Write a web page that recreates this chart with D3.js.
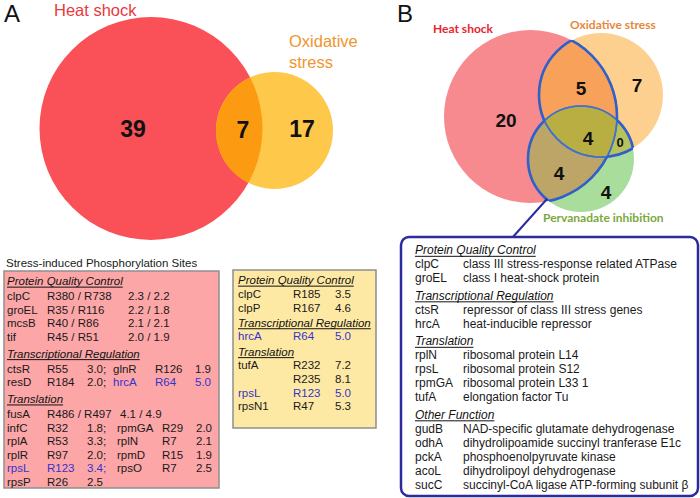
<!DOCTYPE html>
<html><head><meta charset="utf-8">
<script src="https://cdn.jsdelivr.net/npm/d3@7"></script>
<style>html,body{margin:0;padding:0;background:#fff;}svg{display:block;font-family:"Liberation Sans",Arial,sans-serif;}</style>
</head><body>
<script>
// ---------------- DATA ----------------
const setsA = ["Heat shock", "Oxidative stress"];
const countsA = [39, 7, 17]; // heat only, both, oxidative only

const setsB = ["Heat shock", "Oxidative stress", "Pervanadate inhibition"];
const regionKeysB = ["H", "HO", "O", "HOP", "OP", "HP", "P"];
const regionCountsB = [20, 5, 7, 4, 0, 4, 4];

const tableTitle = "Stress-induced Phosphorylation Sites";
const blueGenes = ["hrcA", "rpsL"];

const heatSites = [
  {header: "Protein Quality Control"},
  {kind: "pair", cells: [["clpC", "R380 / R738", "2.3 / 2.2"]]},
  {kind: "pair", cells: [["groEL", "R35 / R116", "2.2 / 1.8"]]},
  {kind: "pair", cells: [["mcsB", "R40 / R86", "2.1 / 2.1"]]},
  {kind: "pair", cells: [["tif", "R45 / R51", "2.0 / 1.9"]]},
  {header: "Transcriptional Regulation"},
  {kind: "tr", cells: [["ctsR", "R55", "3.0;"], ["glnR", "R126", "1.9"]]},
  {kind: "tr", cells: [["resD", "R184", "2.0;"], ["hrcA", "R64", "5.0"]]},
  {header: "Translation"},
  {kind: "fus", cells: [["fusA", "R486 / R497", "4.1 / 4.9"]]},
  {kind: "tl", cells: [["infC", "R32", "1.8;"], ["rpmGA", "R29", "2.0"]]},
  {kind: "tl", cells: [["rplA", "R53", "3.3;"], ["rplN", "R7", "2.1"]]},
  {kind: "tl", cells: [["rplR", "R97", "2.0;"], ["rpmD", "R15", "1.9"]]},
  {kind: "tl", cells: [["rpsL", "R123", "3.4;"], ["rpsO", "R7", "2.5"]]},
  {kind: "single", cells: [["rpsP", "R26", "2.5"]]}
];

const oxSites = [
  {header: "Protein Quality Control"},
  {kind: "y", cells: [["clpC", "R185", "3.5"]]},
  {kind: "y", cells: [["clpP", "R167", "4.6"]]},
  {header: "Transcriptional Regulation"},
  {kind: "y", cells: [["hrcA", "R64", "5.0"]]},
  {header: "Translation"},
  {kind: "y", cells: [["tufA", "R232", "7.2"]]},
  {kind: "y", cells: [["", "R235", "8.1"]]},
  {kind: "y", cells: [["rpsL", "R123", "5.0"]]},
  {kind: "y", cells: [["rpsN1", "R47", "5.3"]]}
];

const sharedGenes = [
  {header: "Protein Quality Control"},
  {kind: "b", cells: [["clpC", "class III stress-response related ATPase"]]},
  {kind: "b", cells: [["groEL", "class I heat-shock protein"]]},
  {header: "Transcriptional Regulation"},
  {kind: "b", cells: [["ctsR", "repressor of class III stress genes"]]},
  {kind: "b", cells: [["hrcA", "heat-inducible repressor"]]},
  {header: "Translation"},
  {kind: "b", cells: [["rplN", "ribosomal protein L14"]]},
  {kind: "b", cells: [["rpsL", "ribosomal protein S12"]]},
  {kind: "b", cells: [["rpmGA", "ribosomal protein L33 1"]]},
  {kind: "b", cells: [["tufA", "elongation factor Tu"]]},
  {header: "Other Function"},
  {kind: "b", cells: [["gudB", "NAD-specific glutamate dehydrogenase"]]},
  {kind: "b", cells: [["odhA", "dihydrolipoamide succinyl tranferase E1c"]]},
  {kind: "b", cells: [["pckA", "phosphoenolpyruvate kinase"]]},
  {kind: "b", cells: [["acoL", "dihydrolipoyl dehydrogenase"]]},
  {kind: "b", cells: [["sucC", "succinyl-CoA ligase ATP-forming subunit \u03b2"]]}
];

// ---------------- LAYOUT ----------------
const W = 700, H = 498;
const svg = d3.select("body").append("svg").attr("width", W).attr("height", H);
const defs = svg.append("defs");

// Panel A
const circA = [{x: 151, y: 128.5, r: 111.5, fill: "#fa5158"}, {x: 274.5, y: 130.5, r: 58.5, fill: "#fec84b"}];
const gA = svg.append("g");
defs.append("clipPath").attr("id", "clipA0").append("circle").attr("cx", circA[0].x).attr("cy", circA[0].y).attr("r", circA[0].r);
gA.selectAll("circle.set").data(circA).join("circle").attr("class", "set")
  .attr("cx", d => d.x).attr("cy", d => d.y).attr("r", d => d.r).attr("fill", d => d.fill);
gA.append("circle").attr("cx", circA[1].x).attr("cy", circA[1].y).attr("r", circA[1].r)
  .attr("fill", "#fc9b12").attr("clip-path", "url(#clipA0)");

const labA = [{x: 133, y: 128}, {x: 243, y: 129}, {x: 302, y: 128}];
gA.selectAll("text.cnt").data(countsA).join("text").attr("class", "cnt")
  .attr("x", (d, i) => labA[i].x).attr("y", (d, i) => labA[i].y + 8.5)
  .attr("text-anchor", "middle").attr("font-weight", "bold").attr("font-size", 23).attr("fill", "#111")
  .text(d => d);

svg.append("text").attr("x", 4).attr("y", 22).attr("font-size", 24).attr("fill", "#111").text("A");
svg.append("text").attr("x", 397).attr("y", 22).attr("font-size", 24).attr("fill", "#111").text("B");

gA.append("text").attr("x", 54).attr("y", 16).attr("font-size", 16.5).attr("fill", "#e9383e").text(setsA[0]);
const oxWords = setsA[1].split(" ");
gA.selectAll("text.oxl").data(oxWords).join("text").attr("class", "oxl")
  .attr("x", 289).attr("y", (d, i) => 47 + i * 21).attr("font-size", 16.5).attr("fill", "#f0952c").text(d => d);

// Panel B
const circB = {
  H: {x: 530.5, y: 116.5, r: 86.5, fill: "#f78a8e"},
  O: {x: 601, y: 95, r: 62, fill: "#fdd08f"},
  P: {x: 581, y: 159, r: 53, fill: "#a9dd9b"}
};
const keys = ["H", "O", "P"];
const gB = svg.append("g");
keys.forEach(k => {
  defs.append("clipPath").attr("id", "clipB" + k).append("circle")
    .attr("cx", circB[k].x).attr("cy", circB[k].y).attr("r", circB[k].r);
  const m = defs.append("mask").attr("id", "notB" + k).attr("maskUnits", "userSpaceOnUse")
    .attr("x", 0).attr("y", 0).attr("width", W).attr("height", H);
  m.append("rect").attr("width", W).attr("height", H).attr("fill", "#fff");
  m.append("circle").attr("cx", circB[k].x).attr("cy", circB[k].y).attr("r", circB[k].r).attr("fill", "#000");
});
gB.selectAll("circle.set").data(keys).join("circle").attr("class", "set")
  .attr("cx", k => circB[k].x).attr("cy", k => circB[k].y).attr("r", k => circB[k].r).attr("fill", k => circB[k].fill);
const pairs = [
  {c: "O", clip: "H", fill: "#f8a15a"},
  {c: "P", clip: "H", fill: "#bca566"},
  {c: "P", clip: "O", fill: "#b8c25c"}
];
pairs.forEach(p => {
  gB.append("circle").attr("cx", circB[p.c].x).attr("cy", circB[p.c].y).attr("r", circB[p.c].r)
    .attr("fill", p.fill).attr("clip-path", `url(#clipB${p.clip})`);
});
gB.append("g").attr("clip-path", "url(#clipBH)").append("circle")
  .attr("cx", circB.P.x).attr("cy", circB.P.y).attr("r", circB.P.r)
  .attr("fill", "#b8ae42").attr("clip-path", "url(#clipBO)");

// lens outlines: each circle's boundary inside each other circle (thin),
// outer boundary of the union of lenses (thick)
const arcPairs = [["H", "O"], ["O", "H"], ["H", "P"], ["P", "H"], ["O", "P"], ["P", "O"]];
arcPairs.forEach(([a, b]) => {
  gB.append("circle").attr("cx", circB[a].x).attr("cy", circB[a].y).attr("r", circB[a].r)
    .attr("fill", "none").attr("stroke", "#3f72cf").attr("stroke-width", 1.6)
    .attr("clip-path", `url(#clipB${b})`);
});
arcPairs.forEach(([a, b]) => {
  const c = keys.find(k => k !== a && k !== b);
  gB.append("g").attr("mask", `url(#notB${c})`).append("circle")
    .attr("cx", circB[a].x).attr("cy", circB[a].y).attr("r", circB[a].r)
    .attr("fill", "none").attr("stroke", "#2f60cc").attr("stroke-width", 2.6)
    .attr("clip-path", `url(#clipB${b})`);
});

const labB = {H: [506, 120], HO: [581, 88], O: [637, 85], HOP: [588, 138], OP: [620, 142], HP: [559, 173], P: [606, 192]};
gB.selectAll("text.cnt").data(regionCountsB).join("text").attr("class", "cnt")
  .attr("x", (d, i) => labB[regionKeysB[i]][0])
  .attr("y", (d, i) => labB[regionKeysB[i]][1] + (regionKeysB[i] === "OP" ? 5 : 7))
  .attr("text-anchor", "middle").attr("font-weight", "bold")
  .attr("font-size", (d, i) => regionKeysB[i] === "OP" ? 13 : 19).attr("fill", "#111").text(d => d);

const labBpos = [{x: 433, y: 33, c: "#e8232e"}, {x: 570, y: 29, c: "#e8873a"}, {x: 543, y: 222, c: "#7ba83c"}];
gB.selectAll("text.setl").data(setsB).join("text").attr("class", "setl")
  .attr("x", (d, i) => labBpos[i].x).attr("y", (d, i) => labBpos[i].y)
  .attr("font-family", "Lato, 'Open Sans', sans-serif").attr("font-weight", "bold").attr("font-size", 12)
  .attr("fill", (d, i) => labBpos[i].c).text(d => d);

// connector
svg.append("line").attr("x1", 547).attr("y1", 199).attr("x2", 512).attr("y2", 238)
  .attr("stroke", "#2b2b9e").attr("stroke-width", 2);

// ---------------- TABLES ----------------
function drawTable(g, rows, opt) {
  let y = opt.y0;
  rows.forEach((row, i) => {
    if (i > 0) {
      y += opt.step;
      if (row.header) y += opt.before;
      else if (rows[i - 1].header) y += opt.after;
    }
    const base = y + opt.fs * 0.36;
    if (row.header) {
      const t = g.append("text").attr("x", opt.cols.h).attr("y", base).attr("font-size", opt.fs)
        .attr("font-style", "italic").attr("fill", "#111").text(row.header);
      const w = t.node().getComputedTextLength();
      g.append("line").attr("x1", opt.cols.h).attr("x2", opt.cols.h + w)
        .attr("y1", base + 2).attr("y2", base + 2).attr("stroke", "#111").attr("stroke-width", 1);
    } else {
      const xs = opt.cols[row.kind];
      const flat = [];
      row.cells.forEach(c => {
        const blue = blueGenes.includes(c[0]) && opt.colorBlue;
        c.forEach(s => flat.push({s, blue}));
      });
      flat.forEach((f, j) => {
        g.append("text").attr("x", xs[j]).attr("y", base).attr("font-size", opt.fs)
          .attr("fill", f.blue ? "#3434c8" : "#1a1a1a").text(f.s);
      });
    }
  });
}

svg.append("text").attr("x", 6).attr("y", 267).attr("font-size", 11.5).attr("fill", "#1a1a1a").text(tableTitle);

svg.append("rect").attr("x", 4).attr("y", 271).attr("width", 215).attr("height", 217)
  .attr("fill", "#fca6a8").attr("stroke", "#8e8e8e").attr("stroke-width", 1.5);
drawTable(svg.append("g"), heatSites, {
  y0: 281, step: 13.6, before: 3, after: 1.5, fs: 11.5, colorBlue: true,
  cols: {h: 7, pair: [7, 47, 128], fus: [7, 47, 120], tr: [7, 47, 87, 113, 155, 195],
         tl: [7, 47, 87, 117, 162, 196], single: [7, 47, 87]}
});

svg.append("rect").attr("x", 233).attr("y", 270).attr("width", 143).attr("height", 158)
  .attr("fill", "#fee9a4").attr("stroke", "#8e8e8e").attr("stroke-width", 1.5);
drawTable(svg.append("g"), oxSites, {
  y0: 280, step: 13.7, before: 1.5, after: 0, fs: 11.5, colorBlue: true,
  cols: {h: 238, y: [238, 293, 335]}
});

svg.append("rect").attr("x", 401).attr("y", 237).attr("width", 297).attr("height", 259).attr("rx", 8)
  .attr("fill", "#fff").attr("stroke", "#2b2b9e").attr("stroke-width", 2.5);
drawTable(svg.append("g"), sharedGenes, {
  y0: 250, step: 14, before: 3.5, after: 0, fs: 12, colorBlue: false,
  cols: {h: 415, b: [415, 463]}
});
</script>
</body></html>
